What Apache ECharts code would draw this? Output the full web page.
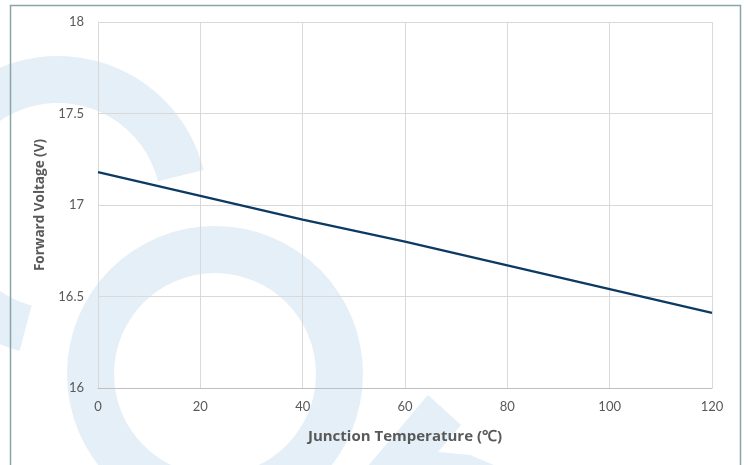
<!DOCTYPE html>
<html>
<head>
<meta charset="utf-8">
<script src="https://cdn.jsdelivr.net/npm/echarts@6/dist/echarts.min.js"></script>
<style>
html,body{margin:0;padding:0;background:#ffffff;}
#chart{width:748px;height:465px;}
</style>
</head>
<body>
<div id="chart"></div>
<script>
// Data
const temperatures = [0, 20, 40, 60, 80, 100, 120];
const forwardVoltage = [17.18, 17.05, 16.92, 16.80, 16.67, 16.54, 16.41];
const xAxisTitle = 'Junction Temperature (℃)';
const yAxisTitle = 'Forward Voltage (V)';

const points = temperatures.map((t, i) => [t, forwardVoltage[i]]);
const wm = '#e4eff7';
const fontFam = 'Lato, "Open Sans", sans-serif';
const titleFam = '"Open Sans", Lato, sans-serif';

const chart = echarts.init(document.getElementById('chart'), null, {renderer: 'canvas'});
chart.setOption({
  backgroundColor: '#ffffff',
  animation: false,
  graphic: [
    {type: 'sector', z: -10, silent: true,
     shape: {cx: 58, cy: 206, r0: 103, r: 150, startAngle: 1.83, endAngle: 6.04, clockwise: true},
     style: {fill: wm}},
    {type: 'ring', z: -10, silent: true,
     shape: {cx: 215, cy: 374, r0: 101, r: 148},
     style: {fill: wm}},
    {type: 'polygon', z: -10, silent: true,
     shape: {points: [[428,395],[461,425],[438,452],[470,455],[496,466],[368,466]]},
     style: {fill: wm}},
    {type: 'rect', z: -5, silent: true,
     shape: {x: 10.5, y: 5.5, width: 730, height: 520},
     style: {fill: 'none', stroke: '#8aa5a8', lineWidth: 1.5}}
  ],
  grid: {left: 98, right: 36, top: 22, bottom: 77, containLabel: false},
  xAxis: {
    type: 'value', min: 0, max: 120, interval: 20,
    name: xAxisTitle, nameLocation: 'middle', nameGap: 41,
    nameTextStyle: {color: '#595959', fontSize: 15, fontWeight: 'bold', fontFamily: titleFam},
    axisLine: {show: true, lineStyle: {color: '#bfbfbf', width: 1}},
    axisTick: {show: false},
    axisLabel: {color: '#595959', fontSize: 13, margin: 12, fontFamily: fontFam},
    splitLine: {show: true, lineStyle: {color: '#d9d9d9', width: 1}}
  },
  yAxis: {
    type: 'value', min: 16, max: 18, interval: 0.5,
    name: yAxisTitle, nameLocation: 'middle', nameGap: 40, nameRotate: 90,
    nameTextStyle: {color: '#595959', fontSize: 13.5, fontWeight: 'bold', fontFamily: titleFam},
    axisLine: {show: true, lineStyle: {color: '#d9d9d9', width: 1}},
    axisTick: {show: false},
    axisLabel: {color: '#595959', fontSize: 13, margin: 14, fontFamily: fontFam},
    splitLine: {show: true, lineStyle: {color: '#d9d9d9', width: 1}}
  },
  series: [{
    type: 'line',
    data: points,
    showSymbol: false,
    symbol: 'none',
    lineStyle: {color: '#0b3a63', width: 2.25},
    itemStyle: {color: '#0b3a63'}
  }]
});
</script>
</body>
</html>
